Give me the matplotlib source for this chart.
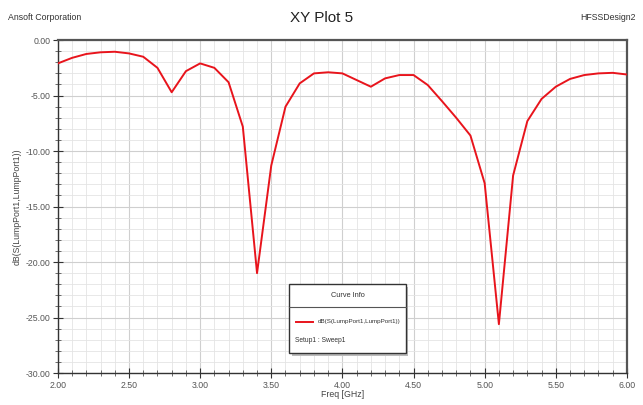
import matplotlib
matplotlib.use("Agg")
import matplotlib.pyplot as plt
from matplotlib.ticker import MultipleLocator, FormatStrFormatter
from matplotlib.patches import Rectangle
from matplotlib.lines import Line2D

plt.rcParams['font.family'] = ['Liberation Sans Narrow', 'Liberation Sans', 'DejaVu Sans']

freq = [2.0, 2.1, 2.2, 2.3, 2.4, 2.5, 2.6, 2.7, 2.8, 2.9,
        3.0, 3.1, 3.2, 3.3, 3.4, 3.5, 3.6, 3.7, 3.8, 3.9,
        4.0, 4.1, 4.2, 4.3, 4.4, 4.5, 4.6, 4.7, 4.8, 4.9,
        5.0, 5.1, 5.2, 5.3, 5.4, 5.5, 5.6, 5.7, 5.8, 5.9, 6.0]
s11 = [-2.1, -1.6, -1.25, -1.1, -1.05, -1.2, -1.5, -2.5, -4.7, -2.8,
       -2.1, -2.5, -3.8, -7.8, -21.0, -11.3, -6.0, -3.9, -3.0, -2.9,
       -3.0, -3.6, -4.2, -3.45, -3.15, -3.15, -4.05, -5.5, -7.0, -8.6,
       -12.9, -25.6, -12.2, -7.3, -5.3, -4.2, -3.5, -3.15, -3.0, -2.95, -3.1]

title = "XY Plot 5"
company = "Ansoft Corporation"
design = "HFSSDesign2"
xlabel = "Freq [GHz]"
ylabel = "dB(S(LumpPort1,LumpPort1))"
legend_title = "Curve Info"
legend_entry = "dB(S(LumpPort1,LumpPort1))"
legend_setup = "Setup1 : Sweep1"

fig = plt.figure(figsize=(6.43, 4.05), dpi=100)
ax = fig.add_axes([0.090, 0.079, 0.885, 0.822])

ax.plot(freq, s11, color='#e8141c', lw=1.4, zorder=3)
ax.set_xlim(2.0, 6.0)
ax.set_ylim(-30, 0)

ax.xaxis.set_major_locator(MultipleLocator(0.5))
ax.xaxis.set_minor_locator(MultipleLocator(0.1))
ax.yaxis.set_major_locator(MultipleLocator(5))
ax.yaxis.set_minor_locator(MultipleLocator(1))
ax.xaxis.set_major_formatter(FormatStrFormatter('%.2f'))
ax.yaxis.set_major_formatter(FormatStrFormatter('%.2f'))

ax.grid(which='major', color='#cfcfcf', lw=0.8)
ax.grid(which='minor', color='#e4e4e4', lw=0.6)
ax.set_axisbelow(True)

ax.tick_params(which='major', direction='inout', length=7, width=0.8, color='#333333',
               labelsize=6.3, labelcolor='#555555', pad=2)
ax.tick_params(which='minor', direction='inout', length=4, width=0.6, color='#555555')

for side in ['top', 'right']:
    ax.spines[side].set_color('#555555')
    ax.spines[side].set_linewidth(1.6)
for side in ['left', 'bottom']:
    ax.spines[side].set_color('#333333')
    ax.spines[side].set_linewidth(1.0)

ax.set_xlabel(xlabel, fontsize=6.3, color='#444444', labelpad=0)
ax.set_ylabel(ylabel, fontsize=6.3, color='#444444', labelpad=3)

fig.text(0.5, 0.955, title, ha='center', va='center', fontsize=11, color='#222222')
fig.text(0.012, 0.958, company, ha='left', va='center', fontsize=6.3, color='#333333')
fig.text(0.988, 0.958, design, ha='right', va='center', fontsize=6.3, color='#333333')

# Legend box (Curve Info)
x0, y0, w, h = 0.407, 0.059, 0.204, 0.208
shadow = Rectangle((x0 + 0.004, y0 - 0.008), w, h, transform=ax.transAxes,
                   facecolor='#bbbbbb', edgecolor='none', zorder=4)
box = Rectangle((x0, y0), w, h, transform=ax.transAxes,
                facecolor='white', edgecolor='#333333', lw=1.0, zorder=5)
ax.add_patch(shadow)
ax.add_patch(box)
ax.text(x0 + w / 2, y0 + h - 0.035, legend_title, transform=ax.transAxes,
        ha='center', va='center', fontsize=5.3, color='#333333', zorder=6)
ax.add_line(Line2D([x0, x0 + w], [y0 + h - 0.07, y0 + h - 0.07], transform=ax.transAxes,
                   color='#555555', lw=0.8, zorder=6))
ax.add_line(Line2D([x0 + 0.012, x0 + 0.042], [y0 + 0.095, y0 + 0.095], transform=ax.transAxes,
                   color='#e8141c', lw=1.4, zorder=6))
ax.text(x0 + 0.05, y0 + 0.095, legend_entry, transform=ax.transAxes,
        ha='left', va='center', fontsize=4.5, color='#333333', zorder=6)
ax.text(x0 + 0.01, y0 + 0.04, legend_setup, transform=ax.transAxes,
        ha='left', va='center', fontsize=4.8, color='#333333', zorder=6)

fig.savefig("out.png", dpi=100)
